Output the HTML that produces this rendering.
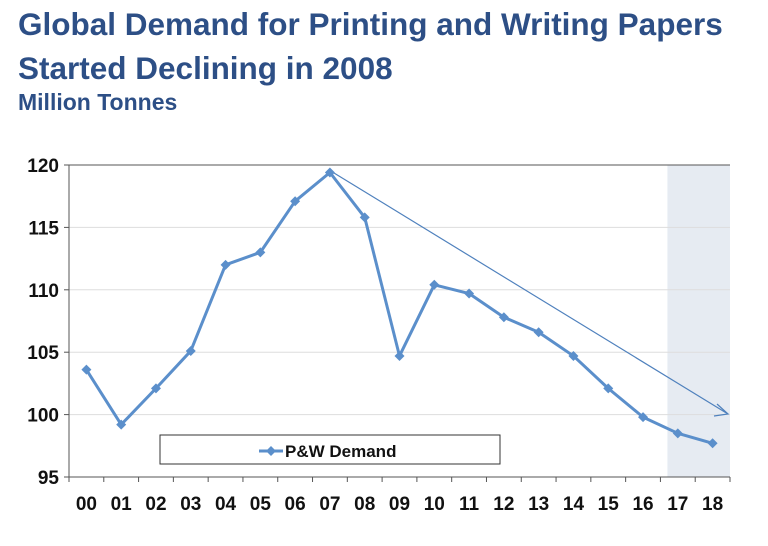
<!DOCTYPE html>
<html><head><meta charset="utf-8"><style>
body{margin:0;width:768px;height:546px;background:#fff;overflow:hidden;font-family:"Liberation Sans",sans-serif}
.t{position:absolute;left:18px;color:#2d4f86;font-weight:bold;white-space:nowrap}
</style></head><body>
<div class="t" style="top:2px;font-size:31.5px;line-height:44px">Global Demand for Printing and Writing Papers<br>Started Declining in 2008</div>
<div class="t" style="top:89px;font-size:23px">Million Tonnes</div>
<svg id="c" width="768" height="546" style="position:absolute;left:0;top:0"></svg>
<script>
const categories=["00","01","02","03","04","05","06","07","08","09","10","11","12","13","14","15","16","17","18"];
const demand=[103.6,99.2,102.1,105.1,112.0,113.0,117.1,119.4,115.8,104.7,110.4,109.7,107.8,106.6,104.7,102.1,99.8,98.5,97.7];
const yTicks=[95,100,105,110,115,120];
const NS="http://www.w3.org/2000/svg",svg=document.getElementById('c');
const L=69,R=730,T=165,B=477,yMin=95,yMax=120;
const cw=(R-L)/categories.length;
const xs=i=>L+cw*(i+0.5);
const ys=v=>B-(v-yMin)/(yMax-yMin)*(B-T);
function mk(t,a,p){const e=document.createElementNS(NS,t);for(const k in a)e.setAttribute(k,a[k]);(p||svg).appendChild(e);return e;}
const sx=L+cw*17+7;
const sh=mk('rect',{x:sx,y:T,width:R-sx,height:B-T,fill:'#e6ebf2'});


yTicks.forEach(v=>{
 const g=mk('line',{x1:L,x2:R,y1:ys(v),y2:ys(v),stroke:v==120?'#555':'#ddd','stroke-width':1});
 
 
 mk('line',{x1:L-5,x2:L,y1:ys(v),y2:ys(v),stroke:'#555'});
 const t=mk('text',{x:L-10,y:ys(v)+7,'text-anchor':'end','font-size':19,'font-weight':'bold',fill:'#111'});
 t.textContent=v;
 
 
});
mk('line',{x1:L,x2:L,y1:T,y2:B,stroke:'#555'});
mk('line',{x1:L,x2:R,y1:B,y2:B,stroke:'#555'});
categories.forEach((c,i)=>{
 mk('line',{x1:L+cw*i,x2:L+cw*i,y1:B,y2:B+5,stroke:'#555'});
 const t=mk('text',{x:xs(i),y:B+33,'text-anchor':'middle','font-size':19,'font-weight':'bold',fill:'#111'});
 t.textContent=c;
 
 
});
mk('line',{x1:R,x2:R,y1:B,y2:B+5,stroke:'#555'});
const a=mk('line',{x1:xs(7),y1:ys(demand[7])-2,x2:728,y2:414,stroke:'#4f81bd','stroke-width':1.2});


mk('polyline',{points:'717,404 728,414 714,416',fill:'none',stroke:'#4f81bd','stroke-width':1.2});
const pl=mk('polyline',{points:demand.map((v,i)=>xs(i)+','+ys(v)).join(' '),fill:'none',stroke:'#5b8fcb','stroke-width':3,'stroke-linejoin':'round'});


demand.forEach((v,i)=>{
 const x=xs(i),y=ys(v);
 const m=mk('polygon',{points:`${x},${y-5} ${x+5},${y} ${x},${y+5} ${x-5},${y}`,fill:'#5b8fcb'});
 
 
});
const lg=mk('g',{});


mk('rect',{x:160,y:435,width:340,height:29,fill:'#fff',stroke:'#333','stroke-width':1},lg);
mk('line',{x1:259,x2:283,y1:451,y2:451,stroke:'#5b8fcb','stroke-width':3},lg);
mk('polygon',{points:'271,446 276,451 271,456 266,451',fill:'#5b8fcb'},lg);
const lt=mk('text',{x:285,y:457,'font-size':17,'font-weight':'bold',fill:'#111'},lg);
lt.textContent='P&W Demand';


</script>
</body></html>
